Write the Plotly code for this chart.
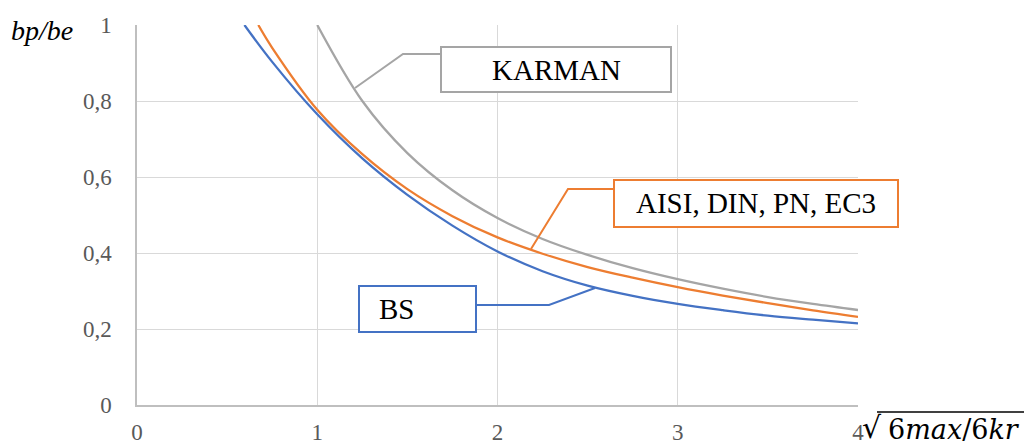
import plotly.graph_objects as go

# Reduced slenderness sqrt(6max/6kr) and effective width ratio bp/be per code
karman_x = [1.0, 1.25, 1.5, 1.75, 2.0, 2.25, 2.5, 2.75, 3.0, 3.25, 3.5, 3.75, 4.0]
karman_y = [1.0, 0.80, 0.663, 0.565, 0.492, 0.437, 0.395, 0.36, 0.331, 0.306, 0.284, 0.266, 0.25]

aisi_x = [0.673, 0.75, 1.0, 1.25, 1.5, 1.75, 2.0, 2.25, 2.5, 2.75, 3.0, 3.25, 3.5, 3.75, 4.0]
aisi_y = [1.0, 0.94, 0.777, 0.66, 0.568, 0.497, 0.441, 0.398, 0.363, 0.335, 0.31, 0.288, 0.268, 0.249, 0.232]

bs_x = [0.596, 0.75, 1.0, 1.25, 1.5, 1.75, 2.0, 2.25, 2.5, 2.75, 3.0, 3.25, 3.5, 3.75, 4.0]
bs_y = [1.0, 0.903, 0.765, 0.649, 0.553, 0.472, 0.404, 0.352, 0.314, 0.287, 0.266, 0.2495, 0.235, 0.2245, 0.215]

x_ticks = [0, 1, 2, 3, 4]
x_ticktext = ["0", "1", "2", "3", "4"]
y_ticks = [0, 0.2, 0.4, 0.6, 0.8, 1.0]
y_ticktext = ["0", "0,2", "0,4", "0,6", "0,8", "1"]

BLUE = "#4472c4"
ORANGE = "#ed7d31"
GREY = "#a5a5a5"
SERIF = "Liberation Serif, Times New Roman, serif"

W, H = 1028, 445
L, R, T, B = 137, 858, 25, 405  # plot area in pixels


def px(x):
    return (x - L) / (R - L)


def py(y):
    return (B - y) / (B - T)


fig = go.Figure()
for xs, ys, col in [(bs_x, bs_y, BLUE), (aisi_x, aisi_y, ORANGE), (karman_x, karman_y, GREY)]:
    fig.add_trace(go.Scatter(x=xs, y=ys, mode="lines", line=dict(color=col, width=2.3, shape="spline"),
                             showlegend=False, hoverinfo="skip", cliponaxis=True))

shapes = []
annotations = []


def callout(box, text, text_x, pts, col):
    x0, y0, x1, y1 = box
    shapes.append(dict(type="rect", xref="paper", yref="paper",
                       x0=px(x0), x1=px(x1), y0=py(y1), y1=py(y0),
                       line=dict(color=col, width=2), fillcolor="white", layer="above"))
    path = "M " + " L ".join(f"{px(a)},{py(b)}" for a, b in pts)
    shapes.append(dict(type="path", xref="paper", yref="paper", path=path,
                       line=dict(color=col, width=2), layer="above"))
    annotations.append(dict(xref="paper", yref="paper", x=px(text_x), y=py((y0 + y1) / 2),
                            text=text, showarrow=False, xanchor="center", yanchor="middle",
                            font=dict(family=SERIF, size=29, color="black")))


callout((441, 47, 671, 92), "KARMAN", 556, [(355, 88), (403, 54), (441, 54)], GREY)
callout((614, 180, 898, 227), "AISI, DIN, PN, EC3", 756, [(531, 249), (568, 189), (614, 189)], ORANGE)
callout((359, 286, 476, 332), "BS", 396, [(476, 305), (549, 305), (595, 288)], BLUE)

# y-axis title
annotations.append(dict(xref="paper", yref="paper", x=px(42), y=py(30), text="<i>bp/be</i>",
                        showarrow=False, xanchor="center", yanchor="middle",
                        font=dict(family=SERIF, size=28, color="black")))

# x-axis title: sqrt(6max/6kr)
annotations.append(dict(xref="paper", yref="paper", x=px(860), y=py(427), text="√",
                        showarrow=False, xanchor="left", yanchor="middle",
                        font=dict(family="DejaVu Serif", size=30, color="black")))
annotations.append(dict(xref="paper", yref="paper", x=px(954), y=py(429),
                        text="6<i>max</i>/6<i>kr</i>",
                        showarrow=False, xanchor="center", yanchor="middle",
                        font=dict(family="DejaVu Serif", size=27, color="black")))
shapes.append(dict(type="line", xref="paper", yref="paper", x0=px(877), x1=px(1024),
                   y0=py(412), y1=py(412), line=dict(color="black", width=1.5)))

fig.update_layout(
    width=W, height=H,
    margin=dict(l=L, r=W - R, t=T, b=H - B, pad=0),
    paper_bgcolor="white", plot_bgcolor="white",
    shapes=shapes, annotations=annotations,
    xaxis=dict(range=[0, 4], tickvals=x_ticks, ticktext=x_ticktext, showgrid=True,
               gridcolor="#d9d9d9", gridwidth=1, showline=True, linecolor="#bfbfbf", linewidth=1.5,
               zeroline=False, ticks="", ticklabelstandoff=6, automargin=False,
               tickfont=dict(family=SERIF, size=23, color="#595959")),
    yaxis=dict(range=[0, 1], tickvals=y_ticks, ticktext=y_ticktext, showgrid=True,
               gridcolor="#d9d9d9", gridwidth=1, showline=True, linecolor="#bfbfbf", linewidth=1.5,
               zeroline=False, ticks="", ticklabelstandoff=19, automargin=False,
               tickfont=dict(family=SERIF, size=23, color="#595959")),
)

fig.write_html("out.html")
